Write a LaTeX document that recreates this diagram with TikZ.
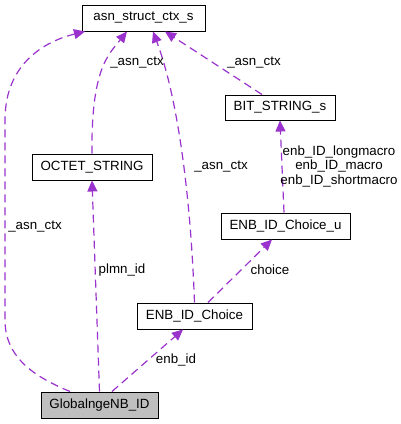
\documentclass[tikz,border=0pt]{standalone}
\usepackage{fontspec}
\setmainfont{Liberation Sans}
\usepackage{xcolor}
\usepackage{tikz}
\usetikzlibrary{positioning, arrows.meta}
\definecolor{eLine}{HTML}{9A32CD}
\definecolor{nFill}{HTML}{BFBFBF}

\begin{document}
\begin{tikzpicture}[x=1pt, y=-1pt, >={Triangle[length=11pt, width=10pt]},
  cls/.style={draw=black, line width=1pt, fill=white, inner sep=0pt, minimum height=26pt,
    font=\fontsize{13.33}{14.5}\selectfont},
  edge/.style={->, draw=eLine, line width=1.2pt, dash pattern=on 8pt off 5pt},
  lbl/.style={inner sep=0pt, font=\fontsize{13.33}{14.5}\selectfont, align=center}]
  \path[use as bounding box] (0,0) rectangle (401,424);
  % classes
  \node[cls, minimum width=123pt] (asn) at (143.5,18) {asn\_struct\_ctx\_s};
  \node[cls, minimum width=110pt, minimum height=25pt] (bits) at (280,107.5) {BIT\_STRING\_s};
  \node[cls, minimum width=120pt] (octet) at (92,167) {OCTET\_STRING};
  \node[cls, minimum width=129pt] (choiceu) at (285.5,226) {ENB\_ID\_Choice\_u};
  \node[cls, minimum width=115pt] (choice) at (194.5,316) {ENB\_ID\_Choice};
  \node[cls, minimum width=117pt, fill=nFill] (global) at (99.5,405) {GlobalngeNB\_ID};
  % members
  \draw[edge] ([xshift=-29.5pt]global.north) .. controls (30,375) and (5,355) .. (5,320)
    -- (5,120) .. controls (5,60) and (50,40) .. ([xshift=-58.5pt]asn.south);
  \draw[edge] (octet.north) .. controls (91,70) and (108,55) .. ([xshift=-16.5pt]asn.south);
  \draw[edge] (choice.north) .. controls (190,180) and (175,90) .. ([xshift=9.5pt]asn.south);
  \draw[edge] ([xshift=-18pt]bits.north) -- ([xshift=21.5pt]asn.south);
  \draw[edge] ([xshift=-1.5pt]choiceu.north) -- (bits.south);
  \draw[edge] ([xshift=13.5pt]choice.north) -- ([xshift=-13.5pt]choiceu.south);
  \draw[edge] (global.north) -- (octet.south);
  \draw[edge] ([xshift=12.5pt]global.north) -- ([xshift=-11.5pt]choice.south);
  % labels
  \node[lbl] (l1) at (35,227) {\_asn\_ctx};
  \node[lbl] (l2) at (137,63) {\_asn\_ctx};
  \node[lbl] (l3) at (221,167) {\_asn\_ctx};
  \node[lbl] (l4) at (254,63) {\_asn\_ctx};
  \node[lbl] (l5) at (339,166) {enb\_ID\_longmacro\\enb\_ID\_macro\\enb\_ID\_shortmacro};
  \node[lbl] (l6) at (270,270) {choice};
  \node[lbl] (l7) at (122,270) {plmn\_id};
  \node[lbl] (l8) at (176,360) {enb\_id};
\end{tikzpicture}
\end{document}
